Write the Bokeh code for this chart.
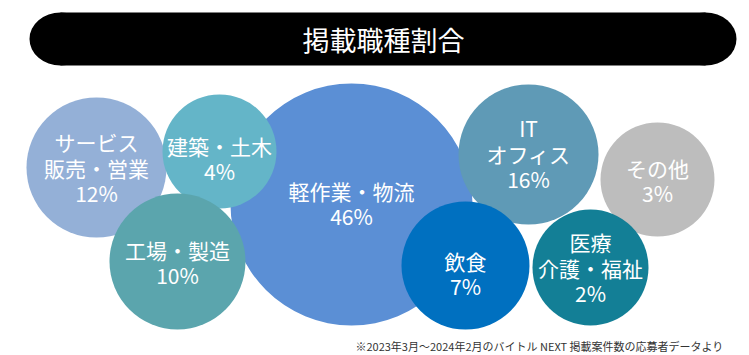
from bokeh.plotting import figure
from bokeh.models import ColumnDataSource, Range1d
from bokeh.core.properties import value
from bokeh.embed import file_html
from bokeh.resources import INLINE

# Data
labels = ["軽作業・物流", "サービス\n販売・営業", "建築・土木", "工場・製造",
          "IT\nオフィス", "その他", "飲食", "医療\n介護・福祉"]
shares = [46, 12, 4, 10, 16, 3, 7, 2]

# Layout (pixel space)
cx = [351, 96, 219, 177, 528, 657, 465, 590]
cy = [204, 167, 151, 261, 154, 179, 265, 267]
radius = [121, 70, 57, 68, 70, 57, 64, 58]
colors = ["#5b8fd5", "#94b0d7", "#64b5c8", "#5ba5ad", "#5f9ab6",
          "#bdbdbd", "#0070c0", "#137f96"]
text_y = [203, 167, 158, 262, 153, 180, 273, 267]

title = "掲載職種割合"
note = "※2023年3月～2024年2月のバイトル NEXT 掲載案件数の応募者データより"

W, H = 749, 355
p = figure(width=W, height=H, output_backend="svg", toolbar_location=None,
           x_range=Range1d(0, W), y_range=Range1d(H, 0),
           min_border=0, outline_line_color=None)
p.axis.visible = False
p.grid.visible = False
p.background_fill_color = "white"
p.border_fill_color = "white"

# Title bar
p.quad(left=[60], right=[705], top=[12], bottom=[65], fill_color="black", line_color=None)
p.ellipse(x=[60, 705], y=[38.5, 38.5], width=[62, 62], height=[53, 53],
          fill_color="black", line_color=None)
p.text(x=[383], y=[39], text=[title], text_color="white", text_align="center",
       text_baseline="middle", text_font=value("Noto Sans CJK JP"),
       text_font_size="27px")

texts = [f"{l}\n{s}%" for l, s in zip(labels, shares)]
src = ColumnDataSource(dict(x=cx, y=cy, r=radius, c=colors, t=texts, ty=text_y))
p.circle(x="x", y="y", radius="r", fill_color="c", line_color=None, source=src)
p.text(x="x", y="ty", text="t", text_color="white", text_align="center",
       text_baseline="middle", text_font=value("Noto Sans CJK JP"),
       text_font_size="21px", text_line_height=0.85, source=src)

p.text(x=[723], y=[345], text=[note], text_color="#333333", text_align="right",
       text_baseline="middle", text_font=value("Noto Sans CJK JP"),
       text_font_size="11px")

open("out.html", "w").write(file_html(p, INLINE))
